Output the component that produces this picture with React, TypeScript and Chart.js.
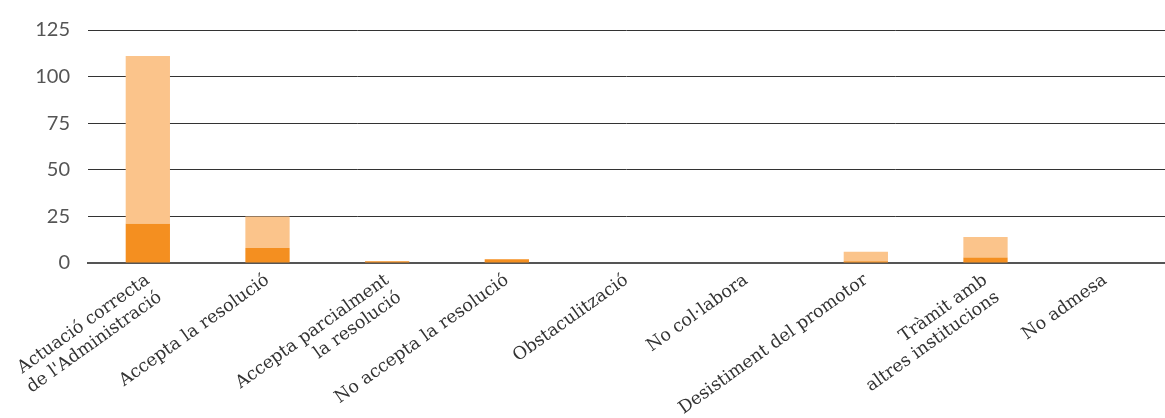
import React, { useEffect, useRef } from "react";
import { Chart, registerables } from "chart.js";

Chart.register(...registerables);

const categories: (string | string[])[] = [
  ["Actuació correcta", "de l'Administració"],
  "Accepta la resolució",
  ["Accepta parcialment", "la resolució"],
  "No accepta la resolució",
  "Obstaculització",
  "No col·labora",
  "Desistiment del promotor",
  ["Tràmit amb", "altres institucions"],
  "No admesa",
];

const darkSeries = [21, 8, 1, 2, 0, 0, 1, 3, 0];
const lightSeries = [90, 17, 0, 0, 0, 0, 5, 11, 0];

const yTicks = [0, 25, 50, 75, 100, 125];

export default function App() {
  const ref = useRef<HTMLCanvasElement | null>(null);

  useEffect(() => {
    if (!ref.current) return;
    const chart = new Chart(ref.current, {
      type: "bar",
      data: {
        labels: categories,
        datasets: [
          {
            data: darkSeries,
            backgroundColor: "#F48F20",
            barPercentage: 0.37,
            categoryPercentage: 1,
          },
          {
            data: lightSeries,
            backgroundColor: "#FBC48B",
            barPercentage: 0.37,
            categoryPercentage: 1,
          },
        ],
      },
      options: {
        animation: false,
        responsive: true,
        maintainAspectRatio: false,
        layout: { padding: { top: 18, right: 0, left: 0, bottom: 0 } },
        plugins: { legend: { display: false }, tooltip: { enabled: false } },
        scales: {
          x: {
            stacked: true,
            grid: { display: false, drawTicks: false },
            border: { display: true, color: "#555555", width: 2 },
            afterFit: (axis: any) => {
              axis.height = 155;
              axis.paddingLeft = 0;
              axis.paddingRight = 0;
            },
            ticks: {
              maxRotation: 35.5,
              minRotation: 35.5,
              color: "#333333",
              padding: 7,
              font: { family: "'DejaVu Serif', serif", size: 17.5 },
            },
          },
          y: {
            stacked: true,
            min: 0,
            max: 125,
            afterBuildTicks: (axis: any) => {
              axis.ticks = yTicks.map((v) => ({ value: v }));
            },
            afterFit: (axis: any) => {
              axis.width = 88;
            },
            grid: { color: "#333333", lineWidth: 1, drawTicks: false },
            border: { display: false },
            ticks: {
              color: "#555555",
              padding: 18,
              font: { family: "Lato, sans-serif", size: 20 },
            },
          },
        },
      },
    });
    return () => chart.destroy();
  }, []);

  return (
    <div style={{ position: "fixed", left: 0, top: 0, width: 1165, height: 418 }}>
      <canvas ref={ref} />
    </div>
  );
}
